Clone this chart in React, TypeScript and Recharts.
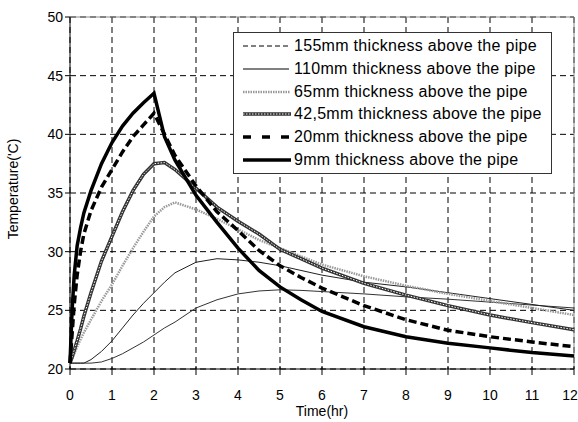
import { LineChart, Line, XAxis, YAxis, CartesianGrid, ReferenceLine } from "recharts";

const times = [0, 0.05, 0.1, 0.17, 0.25, 0.33, 0.5, 0.75, 1, 1.25, 1.5, 1.75, 2, 2.25, 2.5, 3, 3.5, 4, 4.5, 5, 5.5, 6, 7, 8, 9, 10, 11, 12];

const t155 = [20.5, 20.5, 20.5, 20.5, 20.5, 20.5, 20.5, 20.6, 20.9, 21.3, 21.8, 22.3, 22.9, 23.5, 24.0, 25.2, 25.9, 26.4, 26.65, 26.75, 26.7, 26.6, 26.4, 26.15, 25.95, 25.7, 25.45, 25.2];
const t110 = [20.5, 20.5, 20.5, 20.5, 20.5, 20.5, 20.8, 21.5, 22.4, 23.5, 24.6, 25.6, 26.5, 27.4, 28.2, 29.1, 29.4, 29.3, 29.1, 28.8, 28.4, 28.0, 27.4, 27.0, 26.5, 26.0, 25.5, 25.0];
const t65 = [20.5, 20.9, 21.3, 21.9, 22.5, 23.1, 24.2, 25.8, 27.2, 28.8, 30.3, 31.7, 33.0, 33.8, 34.2, 33.6, 32.8, 31.9, 31.0, 30.3, 29.6, 28.9, 27.9, 27.1, 26.4, 25.8, 25.2, 24.6];
const t425 = [20.5, 21.0, 21.6, 22.4, 23.4, 24.5, 26.5, 29.2, 31.3, 33.4, 35.2, 36.6, 37.5, 37.6, 37.0, 35.4, 33.8, 32.6, 31.5, 30.2, 29.4, 28.6, 27.3, 26.3, 25.4, 24.6, 23.95, 23.35];
const t20 = [20.5, 23.0, 25.5, 28.0, 30.0, 31.5, 33.5, 35.5, 37.0, 38.5, 39.8, 40.8, 41.8, 40.0, 38.2, 35.6, 33.4, 31.8, 30.1, 28.8, 27.8, 26.9, 25.4, 24.2, 23.3, 22.75, 22.3, 21.9];
const t9 = [20.5, 25.0, 28.0, 30.5, 32.0, 33.3, 35.2, 37.5, 39.3, 40.7, 41.8, 42.7, 43.5, 39.8, 37.8, 34.8, 32.5, 30.3, 28.4, 27.0, 25.9, 24.9, 23.6, 22.75, 22.2, 21.8, 21.4, 21.1];

const xTicks = [0, 1, 2, 3, 4, 5, 6, 7, 8, 9, 10, 11, 12];
const yTicks = [20, 25, 30, 35, 40, 45, 50];

const legendRows = [
  { name: "155mm thickness above the pipe", kind: "dash" },
  { name: "110mm thickness above the pipe", kind: "thin" },
  { name: "65mm thickness above the pipe", kind: "dotted" },
  { name: "42,5mm thickness above the pipe", kind: "beaded" },
  { name: "20mm thickness above the pipe", kind: "thickdash" },
  { name: "9mm thickness above the pipe", kind: "thick" },
];

const data = times.map((t, i) => ({
  t,
  s155: t155[i],
  s110: t110[i],
  s65: t65[i],
  s425: t425[i],
  s20: t20[i],
  s9: t9[i],
}));

const FONT = "'Liberation Sans', Arial, sans-serif";

function Sample({ kind }: { kind: string }) {
  return (
    <svg width={48} height={10} style={{ display: "block", flex: "none" }}>
      {kind === "dash" && <line x1={0} y1={5} x2={46} y2={5} stroke="#000" strokeWidth={1} strokeDasharray="5 3" />}
      {kind === "thin" && <line x1={0} y1={5} x2={46} y2={5} stroke="#000" strokeWidth={1} />}
      {kind === "dotted" && <line x1={0} y1={5} x2={47} y2={5} stroke="#999" strokeWidth={2.5} strokeDasharray="1.5 1" />}
      {kind === "beaded" && (
        <g>
          <line x1={0} y1={5} x2={48} y2={5} stroke="#333" strokeWidth={3.5} />
          <line x1={0} y1={5} x2={48} y2={5} stroke="#fff" strokeWidth={1} strokeDasharray="1.5 1.5" />
        </g>
      )}
      {kind === "thickdash" && <line x1={0} y1={5} x2={48} y2={5} stroke="#000" strokeWidth={3.5} strokeDasharray="8 11" />}
      {kind === "thick" && <line x1={0} y1={5} x2={48} y2={5} stroke="#000" strokeWidth={3.5} />}
    </svg>
  );
}

const LegendBox = () => (
  <div
    style={{
      position: "absolute",
      left: 233,
      top: 32,
      width: 317,
      height: 138,
      border: "1px solid #333",
      background: "#fff",
      paddingTop: 2,
      fontFamily: FONT,
      fontSize: 16,
      letterSpacing: 0.3,
      color: "#000",
    }}
  >
    {legendRows.map((r) => (
      <div key={r.name} style={{ display: "flex", alignItems: "center", height: 22.7, paddingLeft: 9 }}>
        <Sample kind={r.kind} />
        <span style={{ marginLeft: 3, whiteSpace: "nowrap" }}>{r.name}</span>
      </div>
    ))}
  </div>
);

// tick labels sit a bit lower than recharts puts them; "12" nudged left so it stays on the page
const XTick = ({ x, y, payload }: any) => {
  const shift = payload.value === 12 ? -4 : 0;
  return (
    <text x={x + shift} y={y + 20} textAnchor="middle" fill="#000" fontSize={14} fontFamily={FONT}>
      {payload.value}
    </text>
  );
};

export default function App() {
  return (
    <div style={{ position: "absolute", left: 0, top: 0, width: 578, height: 422, background: "#fff" }}>
      <LineChart width={578} height={422} data={data} margin={{ top: 17, right: 4, left: 0, bottom: 0 }}>
        <CartesianGrid key="cg" stroke="#000" strokeDasharray="6 4" />
        <XAxis
          key="xaxis"
          dataKey="t"
          type="number"
          domain={[0, 12]}
          ticks={xTicks}
          interval={0}
          height={53}
          tick={<XTick />}
          tickSize={9}
          axisLine={{ stroke: "#000" }}
          tickLine={{ stroke: "#000", transform: "translate(0,-3)" }}
          label={{ value: "Time(hr)", position: "insideBottom", offset: 6, fill: "#000", fontSize: 14, fontFamily: FONT }}
        />
        <YAxis
          key="yaxis"
          type="number"
          domain={[20, 50]}
          ticks={yTicks}
          interval={0}
          width={70}
          tick={{ fill: "#000", fontSize: 14, fontFamily: FONT }}
          tickSize={5}
          axisLine={{ stroke: "#000" }}
          tickLine={{ stroke: "#000" }}
          label={{ value: "Temperature('C)", angle: -90, position: "insideLeft", offset: 13, dy: -4, fill: "#000", fontSize: 14, fontFamily: FONT, style: { textAnchor: "middle" } }}
        />
        <ReferenceLine key="top" y={50} stroke="#888" strokeWidth={1} />
        <ReferenceLine key="right" x={12} stroke="#888" strokeWidth={1} />
        <Line key="l155" type="linear" dataKey="s155" stroke="#333" strokeWidth={1} dot={false} isAnimationActive={false} />
        <Line key="l110" type="linear" dataKey="s110" stroke="#222" strokeWidth={1} dot={false} isAnimationActive={false} />
        <Line key="l65" type="linear" dataKey="s65" stroke="#9a9a9a" strokeWidth={2.5} strokeDasharray="1.5 1" dot={false} isAnimationActive={false} />
        <Line key="l425" type="linear" dataKey="s425" stroke="#333" strokeWidth={3.5} dot={false} isAnimationActive={false} />
        <Line key="l425w" type="linear" dataKey="s425" stroke="#fff" strokeWidth={1} strokeDasharray="1.5 1.5" dot={false} isAnimationActive={false} />
        <Line key="l20" type="linear" dataKey="s20" stroke="#000" strokeWidth={3.5} strokeDasharray="8 4" dot={false} isAnimationActive={false} />
        <Line key="l9" type="linear" dataKey="s9" stroke="#000" strokeWidth={3.5} dot={false} isAnimationActive={false} />
      </LineChart>
      <LegendBox />
    </div>
  );
}
